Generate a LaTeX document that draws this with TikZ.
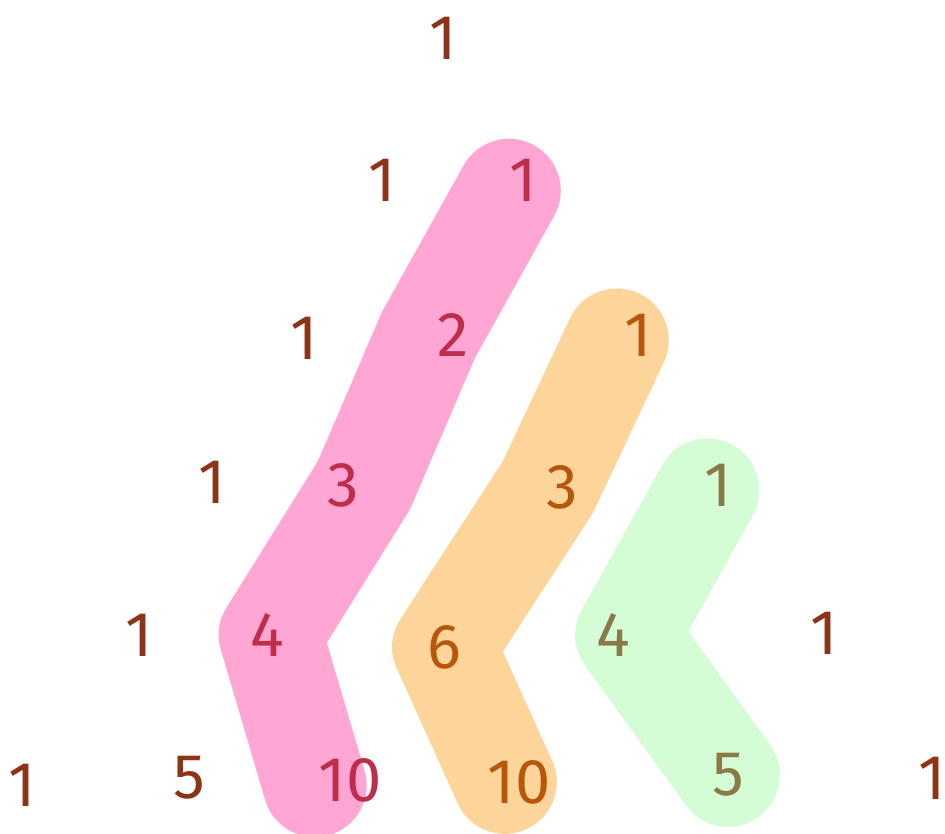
\documentclass[tikz,border=0pt]{standalone}
\usepackage{fontspec}
\setmainfont{Fira Sans}
\usepackage{xcolor}
\usetikzlibrary{backgrounds}
\definecolor{numbrown}{HTML}{8E3416}
\definecolor{pinkfill}{HTML}{FFA6D5}
\definecolor{pinktext}{HTML}{BE2D4A}
\definecolor{orangefill}{HTML}{FDD59B}
\definecolor{orangetext}{HTML}{B8570C}
\definecolor{greenfill}{HTML}{D5FDD5}
\definecolor{greentext}{HTML}{8A7A4A}

\begin{document}
\begin{tikzpicture}[x=0.02cm,y=-0.02cm,
  num/.style={font=\fontsize{36}{36}\selectfont,text=numbrown,inner sep=0pt},
  pinknum/.style={num,text=pinktext},
  orangenum/.style={num,text=orangetext},
  greennum/.style={num,text=greentext},
  blob/.style={line width=59pt,line cap=round,line join=round}
]
\useasboundingbox (0,0) rectangle (945,833);

% row 0
\node[num] (r0a) at (443,38) {1};
% row 1
\node[num] (r1a) at (382,180) {1};
\node[pinknum] (r1b) at (523,180) {1};
% row 2
\node[num] (r2a) at (304,338) {1};
\node[pinknum] (r2b) at (453,335) {2};
\node[orangenum] (r2c) at (638,335) {1};
% row 3
\node[num] (r3a) at (212,482) {1};
\node[pinknum] (r3b) at (343,485) {3};
\node[orangenum] (r3c) at (562,487) {3};
\node[greennum] (r3d) at (718,485) {1};
% row 4
\node[num] (r4a) at (139,635) {1};
\node[pinknum] (r4b) at (267,635) {4};
\node[orangenum] (r4c) at (444,647) {6};
\node[greennum] (r4d) at (613,635) {4};
\node[num] (r4e) at (824,633) {1};
% row 5
\node[num] (r5a) at (22,785) {1};
\node[num] (r5b) at (189,778) {5};
\node[pinknum] (r5c) at (350,780) {10};
\node[orangenum] (r5d) at (519,782) {10};
\node[greennum] (r5e) at (728,775) {5};
\node[num] (r5f) at (932,778) {1};

\begin{scope}[on background layer]
\draw[blob,pinkfill] ([xshift=-8,yshift=-6]r1b.center) -- ([xshift=-14]r2b.center)
  -- ([xshift=12]r3b.center) -- ([xshift=2]r4b.center) -- ([xshift=-20,yshift=-3]r5c.center);
\draw[blob,orangefill] ([xshift=-12,yshift=-3]r2c.center) -- ([xshift=-8]r3c.center)
  -- (r4c.center) -- ([xshift=-8]r5d.center);
\draw[blob,greenfill] ([xshift=-6,yshift=-3]r3d.center) -- ([xshift=8]r4d.center)
  -- (r5e.center);
\end{scope}
\end{tikzpicture}
\end{document}
